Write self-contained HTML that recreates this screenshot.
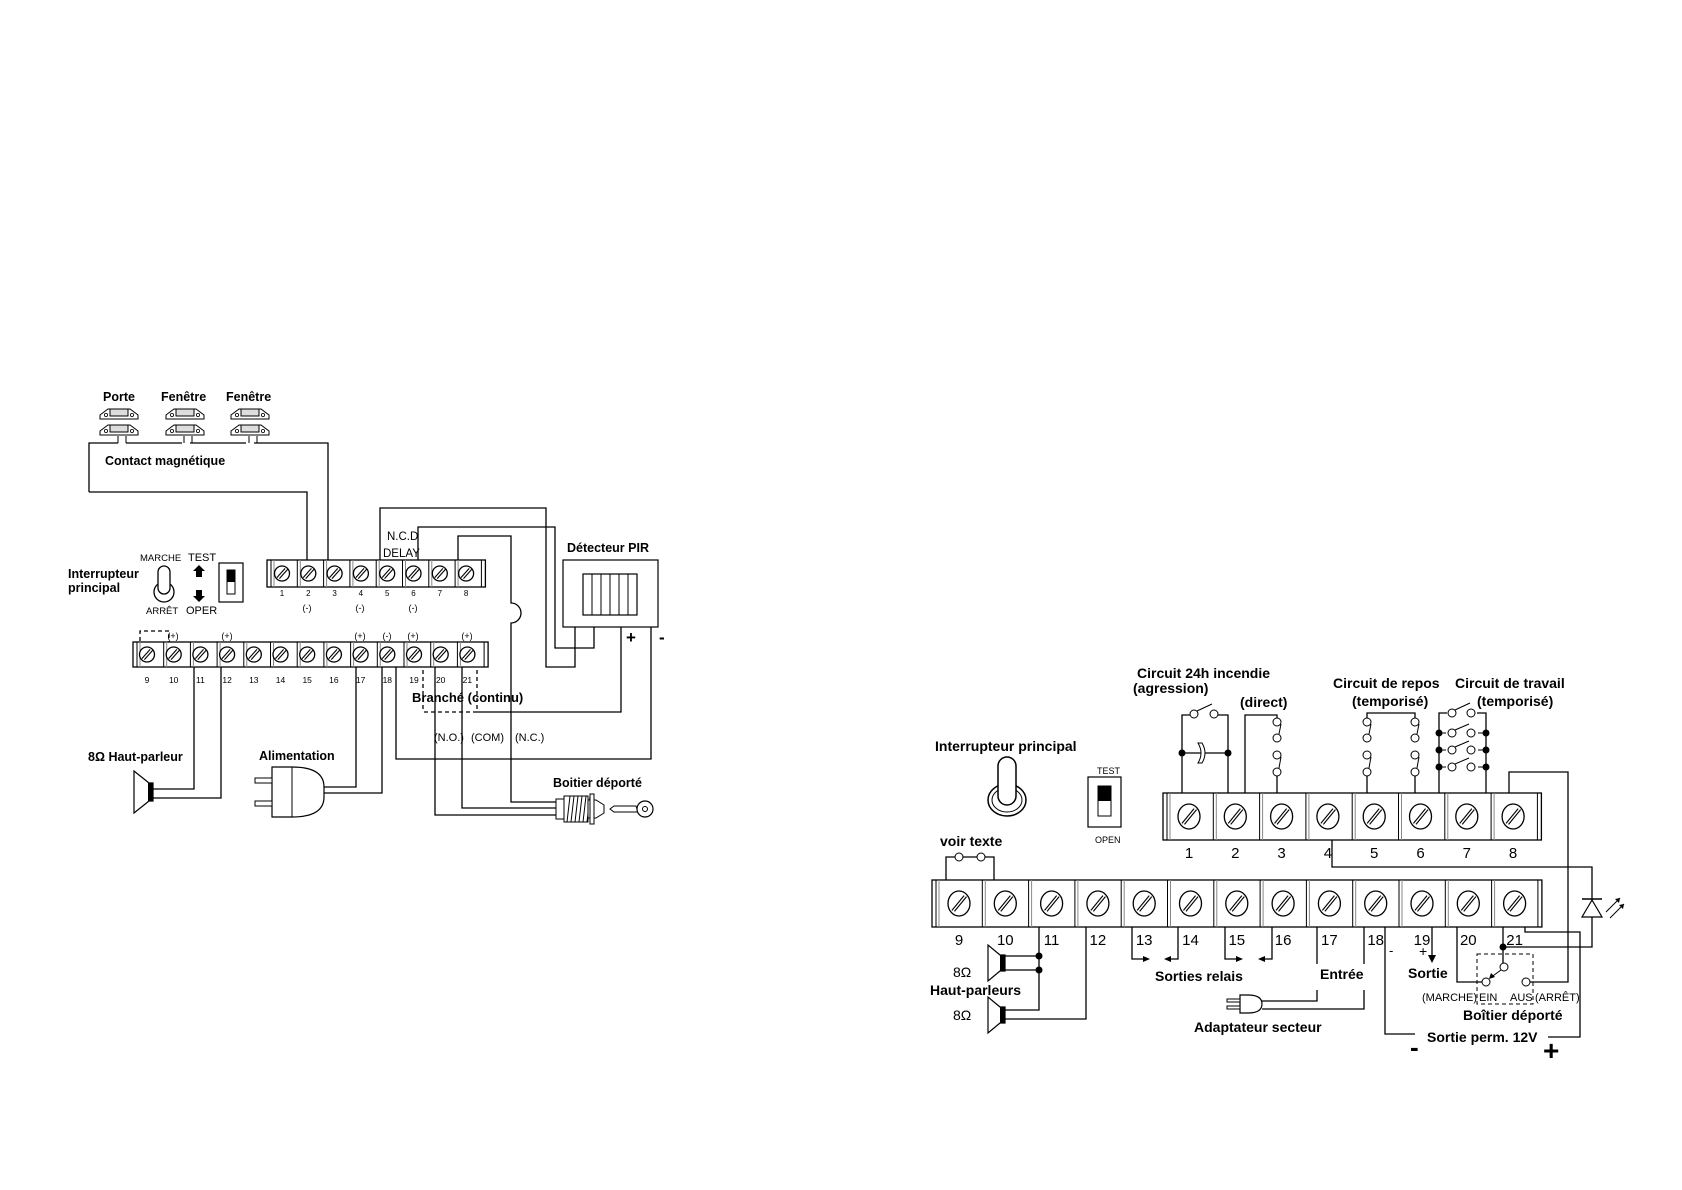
<!DOCTYPE html>
<html><head><meta charset="utf-8"><style>
html,body{margin:0;padding:0;background:#fff}
svg{display:block}
text{font-family:"Liberation Sans",sans-serif;fill:#000}
</style></head><body>
<svg id="s" width="1682" height="1190" viewBox="0 0 1682 1190" xmlns="http://www.w3.org/2000/svg">
<g fill="none" stroke="#000" stroke-width="1.3" id="w">
<polyline points="89,492 89,443 118,443"/>
<polyline points="126,443 182,443"/>
<polyline points="190,443 246,443"/>
<polyline points="254,443 328,443 328,568"/>
<polyline points="89,492 307,492 307,568"/>
<polyline points="380,568 380,508 546,508 546,667 575,667 575,627"/>
<polyline points="418,568 418,527 555,527 555,648 594,648 594,627"/>
<path d="M458,568 V536 H511 V603 A10,10 0 0 1 511,623 V802 H556"/>
<polyline points="621,627 621,712 477,712"/>
<line x1="477" y1="712" x2="423" y2="712" stroke-dasharray="4,3"/>
<line x1="423" y1="670" x2="423" y2="712" stroke-dasharray="4,3"/>
<line x1="477" y1="670" x2="477" y2="712" stroke-dasharray="4,3"/>
<polyline points="651,627 651,759 396,759 396,667"/>
<polyline points="435,660 435,815 556,815"/>
<polyline points="462,660 462,808 556,808"/>
<polyline points="194,660 194,789 153,789"/>
<polyline points="221,660 221,798 153,798"/>
<polyline points="356,660 356,787 324,787"/>
<polyline points="382,660 382,793 324,793"/>
<polyline points="140,648 140,631 169,631 169,648" stroke-dasharray="4,3"/>

<polyline points="946,905 946,857 994,857 994,905"/>
<polyline points="1182,817 1182,715 1228,715 1228,817"/>
<line x1="1182" y1="753" x2="1228" y2="753"/>
<polyline points="1245,817 1245,715 1277,715 1277,722"/>
<line x1="1277" y1="772" x2="1277" y2="817"/>
<polyline points="1367,722 1367,713 1415,713 1415,722"/>
<line x1="1367" y1="772" x2="1367" y2="817"/>
<line x1="1415" y1="772" x2="1415" y2="817"/>
<polyline points="1439,817 1439,713 1486,713 1486,817"/>
<polyline points="1509,817 1509,772 1568,772 1568,982 1529,982"/>
<polyline points="1332,817 1332,867 1592,867 1592,947 1503,947"/>
<polyline points="1525,905 1525,932 1580,932 1580,1037 1548,1037"/>
<polyline points="1503,905 1503,963"/>
<polyline points="1457,905 1457,982 1482,982"/>
<polyline points="1385,905 1385,1034 1415,1034"/>
<polyline points="1432,905 1432,955"/>
<polyline points="1039,905 1039,1010 1005,1010"/>
<line x1="1005" y1="956" x2="1039" y2="956"/>
<line x1="1005" y1="970" x2="1039" y2="970"/>
<polyline points="1086,905 1086,1019 1005,1019"/>
<polyline points="1132,905 1132,959 1144,959"/>
<polyline points="1178,905 1178,959 1170,959"/>
<polyline points="1225,905 1225,959 1237,959"/>
<polyline points="1272,905 1272,959 1264,959"/>
<polyline points="1317,905 1317,964"/>
<polyline points="1317,990 1317,1001 1262,1001"/>
<polyline points="1364,905 1364,964"/>
<polyline points="1364,990 1364,1009 1262,1009"/>
<rect x="1477" y="954" width="56" height="50" stroke-dasharray="4,3" stroke-width="1"/>
</g>
<g id="gen"></g>

<g font-size="12.5" font-weight="bold">
<text x="103" y="401">Porte</text>
<text x="161" y="401">Fenêtre</text>
<text x="226" y="401">Fenêtre</text>
<text x="105" y="465">Contact magnétique</text>
<text x="68" y="578">Interrupteur</text>
<text x="68" y="592">principal</text>
<text x="567" y="552">Détecteur PIR</text>
<text x="412" y="702" font-size="13">Branché (continu)</text>
<text x="88" y="761">8Ω Haut-parleur</text>
<text x="259" y="760">Alimentation</text>
<text x="553" y="787">Boitier déporté</text>
</g>
<g font-size="9.5">
<text x="140" y="561">MARCHE</text>
<text x="146" y="614">ARRÊT</text>
<text x="188" y="561" font-size="11">TEST</text>
<text x="186" y="614" font-size="11">OPER</text>
<text x="387" y="540" font-size="11.5">N.C.D</text>
<text x="383" y="557" font-size="11.5">DELAY</text>
<text x="434" y="741" font-size="11">(N.O.)</text>
<text x="471" y="741" font-size="11">(COM)</text>
<text x="515" y="741" font-size="11">(N.C.)</text>
</g>
<text x="626" y="643" font-size="17" font-weight="bold">+</text>
<text x="659" y="643" font-size="17" font-weight="bold">-</text>

<g font-size="14" font-weight="bold">
<text x="1137" y="678">Circuit 24h incendie</text>
<text x="1133" y="693">(agression)</text>
<text x="1240" y="707">(direct)</text>
<text x="1333" y="688">Circuit de repos</text>
<text x="1352" y="706">(temporisé)</text>
<text x="1455" y="688">Circuit de travail</text>
<text x="1477" y="706">(temporisé)</text>
<text x="935" y="751">Interrupteur principal</text>
<text x="940" y="846">voir texte</text>
<text x="930" y="995">Haut-parleurs</text>
<text x="1155" y="981">Sorties relais</text>
<text x="1320" y="979">Entrée</text>
<text x="1194" y="1032">Adaptateur secteur</text>
<text x="1408" y="978">Sortie</text>
<text x="1463" y="1020">Boîtier déporté</text>
<text x="1427" y="1042">Sortie perm. 12V</text>
</g>
<g font-size="14">
<text x="953" y="977">8Ω</text>
<text x="953" y="1020">8Ω</text>
</g>
<text x="1097" y="774" font-size="9">TEST</text>
<text x="1095" y="843" font-size="9">OPEN</text>
<text x="1422" y="1001" font-size="11">(MARCHE)</text>
<text x="1479" y="1001" font-size="11">EIN</text>
<text x="1510" y="1001" font-size="11">AUS</text>
<text x="1535" y="1001" font-size="11">(ARRÊT)</text>
<text x="1389" y="955" font-size="13">-</text>
<text x="1419" y="956" font-size="14">+</text>
<text x="1410" y="1056" font-size="26" font-weight="bold">-</text>
<text x="1543" y="1060" font-size="28" font-weight="bold">+</text>
</svg>
<script>
const NS="http://www.w3.org/2000/svg",g=document.getElementById('gen');
function el(t,a,txt){const e=document.createElementNS(NS,t);for(const k in a)e.setAttribute(k,a[k]);if(txt!==undefined)e.textContent=txt;g.appendChild(e);return e;}
function block(x0,y0,n,pitch,h,c0,rx,ry,numY,fs,start){
  const w=n*pitch+8;
  el('rect',{x:x0,y:y0,width:w,height:h,fill:'#fff',stroke:'#000','stroke-width':1.3});
  for(let i=0;i<n;i++){
    const lx=x0+4+i*pitch;
    el('line',{x1:lx,y1:y0,x2:lx,y2:y0+h,stroke:'#000','stroke-width':1});
    el('line',{x1:lx+3,y1:y0,x2:lx+3,y2:y0+h,stroke:'#888','stroke-width':1});
    const cx=c0+i*pitch,cy=y0+h/2;
    el('ellipse',{cx:cx,cy:cy,rx:rx,ry:ry,fill:'#fff',stroke:'#000','stroke-width':1.3});
    const d=rx*0.55;
    el('line',{x1:cx-d-1,y1:cy+ry*0.55,x2:cx+d-1,y2:cy-ry*0.55-1,stroke:'#000','stroke-width':1.1});
    el('line',{x1:cx-d+1.5,y1:cy+ry*0.55+1,x2:cx+d+1.5,y2:cy-ry*0.55,stroke:'#000','stroke-width':1.1});
    el('text',{x:cx,y:numY,'font-size':fs,'text-anchor':'middle'},String(start+i));
  }
  el('line',{x1:x0+w-4,y1:y0,x2:x0+w-4,y2:y0+h,stroke:'#000','stroke-width':1});
}
block(267,560,8,26.3,27,282,7.5,7.5,596,8,1);
block(133,642,13,26.7,25,147,7.5,7.5,683,8.5,9);
[[307,'(-)'],[360,'(-)'],[413,'(-)']].forEach(a=>el('text',{x:a[0],y:611,'font-size':9,'text-anchor':'middle'},a[1]));
[[173,'(+)'],[227,'(+)'],[360,'(+)'],[387,'(-)'],[413,'(+)'],[467,'(+)']].forEach(a=>el('text',{x:a[0],y:639,'font-size':9,'text-anchor':'middle'},a[1]));
block(1163,793,8,46.3,47,1189,11,12.5,858,15,1);
block(932,880,13,46.3,47,959,11,12.5,945,15,9);
function mag(x,y){
  el('path',{d:`M${x},${y+6} l8,-6 h22 l8,6 v4 h-38 z`,fill:'#fff',stroke:'#000','stroke-width':1});
  el('rect',{x:x+10,y:y,width:18,height:7,fill:'#ddd',stroke:'#000','stroke-width':1});
  el('circle',{cx:x+6,cy:y+6,r:1.6,fill:'none',stroke:'#000','stroke-width':0.8});
  el('circle',{cx:x+32,cy:y+6,r:1.6,fill:'none',stroke:'#000','stroke-width':0.8});
}
[100,166,231].forEach(x=>{mag(x,409);mag(x,425);
  el('line',{x1:x+18,y1:436,x2:x+18,y2:443,stroke:'#000'});el('line',{x1:x+26,y1:436,x2:x+26,y2:443,stroke:'#000'});});
el('rect',{x:563,y:560,width:95,height:67,fill:'#fff',stroke:'#000','stroke-width':1.2});
el('rect',{x:583,y:574,width:54,height:41,fill:'#fff',stroke:'#000','stroke-width':1.2});
for(let i=1;i<6;i++)el('line',{x1:583+i*9,y1:574,x2:583+i*9,y2:615,stroke:'#000'});
el('circle',{cx:164,cy:592,r:10,fill:'#fff',stroke:'#000','stroke-width':1.3});
el('rect',{x:158,y:566,width:12,height:28,rx:6,fill:'#fff',stroke:'#000','stroke-width':1.3});
el('path',{d:'M199,565 l-6,6 h3 v6 h6 v-6 h3 z',fill:'#000'});
el('path',{d:'M199,602 l-6,-6 h3 v-6 h6 v6 h3 z',fill:'#000'});
el('rect',{x:219,y:563,width:24,height:39,fill:'#fff',stroke:'#000','stroke-width':1.2});
el('rect',{x:227,y:570,width:8,height:24,fill:'#fff',stroke:'#000'});
el('rect',{x:227,y:570,width:8,height:12,fill:'#000'});
el('path',{d:'M153,783 h-4 l-15,-12 v42 l15,-12 h4 z',fill:'#fff',stroke:'#000','stroke-width':1.2});
el('rect',{x:148,y:783,width:5,height:18,fill:'#000'});
el('path',{d:'M272,767 h20 q32,0 32,20 v10 q0,20 -32,20 h-20 z',fill:'#fff',stroke:'#000','stroke-width':1.2});
el('line',{x1:292,y1:767,x2:292,y2:817,stroke:'#000'});
el('rect',{x:255,y:778,width:17,height:5,fill:'#fff',stroke:'#000'});
el('rect',{x:255,y:801,width:17,height:5,fill:'#fff',stroke:'#000'});
el('rect',{x:556,y:799,width:8,height:20,fill:'#fff',stroke:'#000'});
el('rect',{x:564,y:796,width:24,height:26,fill:'#fff',stroke:'#000'});
for(let i=0;i<6;i++)el('line',{x1:567+i*4,y1:822,x2:570+i*4,y2:796,stroke:'#000'});
el('path',{d:'M588,800 h8 l8,5 v8 l-8,5 h-8 z',fill:'#fff',stroke:'#000'});
el('rect',{x:590,y:794,width:4,height:30,fill:'#fff',stroke:'#000'});
el('path',{d:'M610,809 l4,-3 h22 l1,3 l1,3 h-24 z',fill:'#fff',stroke:'#000'});
el('circle',{cx:645,cy:809,r:8,fill:'#fff',stroke:'#000','stroke-width':1.2});
el('circle',{cx:645,cy:809,r:2.5,fill:'#fff',stroke:'#000'});
el('ellipse',{cx:1007,cy:800,rx:19,ry:16,fill:'#fff',stroke:'#000','stroke-width':1.5});
el('ellipse',{cx:1007,cy:800,rx:15,ry:12,fill:'#fff',stroke:'#000','stroke-width':1});
el('rect',{x:998,y:757,width:18,height:48,rx:9,fill:'#fff',stroke:'#000','stroke-width':1.5});
el('rect',{x:1088,y:777,width:33,height:50,fill:'#fff',stroke:'#000','stroke-width':1.2});
el('rect',{x:1098,y:786,width:13,height:30,fill:'#fff',stroke:'#000'});
el('rect',{x:1098,y:786,width:13,height:15,fill:'#000'});
[959,981].forEach(x=>el('circle',{cx:x,cy:857,r:4,fill:'#fff',stroke:'#000'}));
el('rect',{x:1190,y:711,width:28,height:6,fill:'#fff',stroke:'none'});
el('circle',{cx:1194,cy:714,r:4,fill:'#fff',stroke:'#000'});el('circle',{cx:1214,cy:714,r:4,fill:'#fff',stroke:'#000'});
el('line',{x1:1197,y1:711,x2:1212,y2:704,stroke:'#000'});
el('circle',{cx:1182,cy:753,r:3.5,fill:'#000'});el('circle',{cx:1228,cy:753,r:3.5,fill:'#000'});
el('path',{d:'M1198,743 q6,10 0,20 h4 q6,-10 0,-20 z',fill:'#fff',stroke:'#000'});
function chain(x){
  el('rect',{x:x-5,y:720,width:10,height:55,fill:'#fff',stroke:'none'});
  [722,738,755,772].forEach(y=>el('circle',{cx:x,cy:y,r:4,fill:'#fff',stroke:'#000'}));
  el('line',{x1:x+4,y1:724,x2:x+2,y2:734,stroke:'#000'});
  el('line',{x1:x+4,y1:757,x2:x+2,y2:768,stroke:'#000'});
}
chain(1277);chain(1367);chain(1415);
el('rect',{x:1447,y:710,width:30,height:6,fill:'#fff'});
[[1452,713],[1471,713]].forEach(p=>el('circle',{cx:p[0],cy:p[1],r:4,fill:'#fff',stroke:'#000'}));
el('line',{x1:1455,y1:710,x2:1470,y2:703,stroke:'#000'});
[733,750,767].forEach(y=>{
  el('line',{x1:1439,y1:y,x2:1486,y2:y,stroke:'#000'});
  el('rect',{x:1446,y:y-3,width:32,height:6,fill:'#fff'});
  el('circle',{cx:1452,cy:y,r:4,fill:'#fff',stroke:'#000'});el('circle',{cx:1471,cy:y,r:4,fill:'#fff',stroke:'#000'});
  el('line',{x1:1455,y1:y-3,x2:1469,y2:y-9,stroke:'#000'});
  el('circle',{cx:1439,cy:y,r:3.5,fill:'#000'});el('circle',{cx:1486,cy:y,r:3.5,fill:'#000'});
});
el('path',{d:'M1582,917 h20 l-10,-17 z',fill:'#fff',stroke:'#000','stroke-width':1.2});
el('line',{x1:1582,y1:899,x2:1602,y2:899,stroke:'#000','stroke-width':1.4});
el('line',{x1:1606,y1:912,x2:1620,y2:898,stroke:'#000'});el('path',{d:'M1620,898 l-5,1 l4,4 z',fill:'#000'});
el('line',{x1:1610,y1:918,x2:1624,y2:904,stroke:'#000'});el('path',{d:'M1624,904 l-5,1 l4,4 z',fill:'#000'});
el('circle',{cx:1503,cy:947,r:3.5,fill:'#000'});
el('circle',{cx:1504,cy:967,r:4,fill:'#fff',stroke:'#000'});
el('circle',{cx:1486,cy:982,r:4,fill:'#fff',stroke:'#000'});
el('circle',{cx:1526,cy:982,r:4,fill:'#fff',stroke:'#000'});
el('line',{x1:1501,y1:970,x2:1490,y2:978,stroke:'#000'});el('path',{d:'M1489,979 l2,-6 l4,4 z',fill:'#000'});
el('path',{d:'M1428,955 h8 l-4,8 z',fill:'#000'});
el('path',{d:'M1150,959 l-7,-3 v6 z',fill:'#000'});el('path',{d:'M1164,959 l7,-3 v6 z',fill:'#000'});
el('path',{d:'M1243,959 l-7,-3 v6 z',fill:'#000'});el('path',{d:'M1258,959 l7,-3 v6 z',fill:'#000'});
function spk(y){el('path',{d:`M1005,${y} h-5 l-12,-10 v36 l12,-10 h5 z`,fill:'#fff',stroke:'#000','stroke-width':1.2});el('rect',{x:1000,y:y,width:5,height:16,fill:'#000'});}
spk(955);spk(1007);
el('circle',{cx:1039,cy:956,r:3.5,fill:'#000'});el('circle',{cx:1039,cy:970,r:3.5,fill:'#000'});
el('path',{d:'M1240,995 h8 q14,0 14,9 q0,9 -14,9 h-8 z',fill:'#fff',stroke:'#000','stroke-width':1.2});
el('line',{x1:1240,y1:995,x2:1240,y2:1013,stroke:'#000'});
el('rect',{x:1227,y:999,width:13,height:3,fill:'#fff',stroke:'#000'});
el('rect',{x:1227,y:1006,width:13,height:3,fill:'#fff',stroke:'#000'});
</script>
</body></html>
